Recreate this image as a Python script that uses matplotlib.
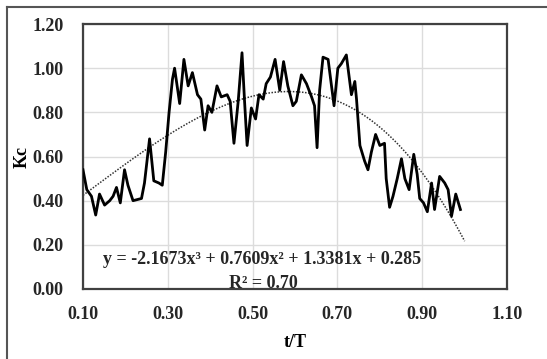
import numpy as np
import matplotlib.pyplot as plt
from matplotlib.lines import Line2D

# t/T and Kc values
t_T = [0.100, 0.109, 0.120, 0.130, 0.139, 0.151, 0.163, 0.171, 0.179, 0.188,
       0.198, 0.206, 0.218, 0.238, 0.245, 0.257, 0.267, 0.279, 0.287, 0.295,
       0.303, 0.311, 0.316, 0.328, 0.338, 0.348, 0.358, 0.370, 0.378, 0.387,
       0.395, 0.404, 0.416, 0.426, 0.440, 0.447, 0.456, 0.466, 0.475, 0.481,
       0.487, 0.497, 0.507, 0.515, 0.525, 0.532, 0.542, 0.553, 0.564, 0.573,
       0.583, 0.595, 0.603, 0.615, 0.627, 0.639, 0.646, 0.652, 0.658, 0.666,
       0.678, 0.686, 0.692, 0.701, 0.709, 0.721, 0.733, 0.741, 0.745, 0.753,
       0.764, 0.772, 0.780, 0.790, 0.800, 0.811, 0.815, 0.823, 0.831, 0.841,
       0.851, 0.859, 0.869, 0.880, 0.888, 0.894, 0.903, 0.912, 0.922, 0.929,
       0.941, 0.953, 0.961, 0.969, 0.979, 0.990]
kc = [0.54, 0.45, 0.42, 0.335, 0.43, 0.38, 0.40, 0.42, 0.46, 0.39,
      0.54, 0.47, 0.40, 0.41, 0.48, 0.68, 0.49, 0.48, 0.47, 0.62,
      0.80, 0.95, 1.00, 0.84, 1.04, 0.92, 0.98, 0.88, 0.86, 0.72,
      0.83, 0.80, 0.92, 0.87, 0.88, 0.85, 0.66, 0.85, 1.07, 0.85,
      0.65, 0.82, 0.77, 0.88, 0.86, 0.93, 0.96, 1.04, 0.90, 1.03,
      0.92, 0.83, 0.85, 0.97, 0.93, 0.87, 0.83, 0.64, 0.90, 1.05,
      1.04, 0.92, 0.83, 1.00, 1.02, 1.06, 0.88, 0.94, 0.86, 0.65,
      0.58, 0.54, 0.62, 0.70, 0.65, 0.66, 0.50, 0.37, 0.42, 0.50,
      0.59, 0.50, 0.45, 0.61, 0.52, 0.41, 0.39, 0.35, 0.48, 0.36,
      0.51, 0.48, 0.45, 0.33, 0.43, 0.36]

# trendline coefficients as printed on the chart
coefs = [-2.1673, 0.7609, 1.3381, 0.285]
r2 = 0.70

x_ticks = [0.10, 0.30, 0.50, 0.70, 0.90, 1.10]
y_ticks = [0.00, 0.20, 0.40, 0.60, 0.80, 1.00, 1.20]

plt.rcParams['font.family'] = ['Liberation Serif', 'DejaVu Serif']
plt.rcParams['font.weight'] = 'bold'

fig = plt.figure(figsize=(5.47, 3.59), dpi=100)
ax = fig.add_axes([0.1517, 0.195, 0.7753, 0.738])

ax.plot(t_T, kc, color='black', lw=2.0, solid_joinstyle='round', zorder=3)

xt = np.linspace(0.1, 1.0, 100)
ax.plot(xt, np.polyval(coefs, xt), color='#333333', lw=1.1,
        linestyle=(0, (1, 1.0)), zorder=2)

ax.set_xlim(0.1, 1.1)
ax.set_ylim(0, 1.2)
ax.set_xticks(x_ticks)
ax.set_yticks(y_ticks)
ax.set_xticklabels([f'{v:.2f}' for v in x_ticks])
ax.set_yticklabels([f'{v:.2f}' for v in y_ticks])
ax.tick_params(length=0, labelsize=13, colors='#262626')
ax.tick_params(axis='x', pad=12)
ax.tick_params(axis='y', pad=14)
ax.grid(True, color='#dcdcdc', lw=1.0)
ax.set_axisbelow(True)
for sp in ax.spines.values():
    sp.set_color('#404040')
    sp.set_linewidth(1.6)

ax.set_xlabel('t/T', fontsize=13, fontweight='bold', labelpad=8)
ax.set_ylabel('Kc', fontsize=13, fontweight='bold', labelpad=1)

eq = 'y = -2.1673x³ + 0.7609x² + 1.3381x + 0.285'
ax.text(0.422, 0.11, eq, transform=ax.transAxes, ha='center', va='center',
        fontsize=13, fontweight='bold', color='#262626')
ax.text(0.425, 0.022, f'R² = {r2:.2f}', transform=ax.transAxes, ha='center',
        va='center', fontsize=13, fontweight='bold', color='#262626')

# outer border of the chart area
fig.add_artist(Line2D([7 / 547, 1.0], [1 - 7 / 359, 1 - 7 / 359],
                      transform=fig.transFigure, color='#555555', lw=1.5))
fig.add_artist(Line2D([7 / 547, 7 / 547], [0.0, 1 - 7 / 359],
                      transform=fig.transFigure, color='#555555', lw=1.5))

fig.savefig('out.png', dpi=100)
